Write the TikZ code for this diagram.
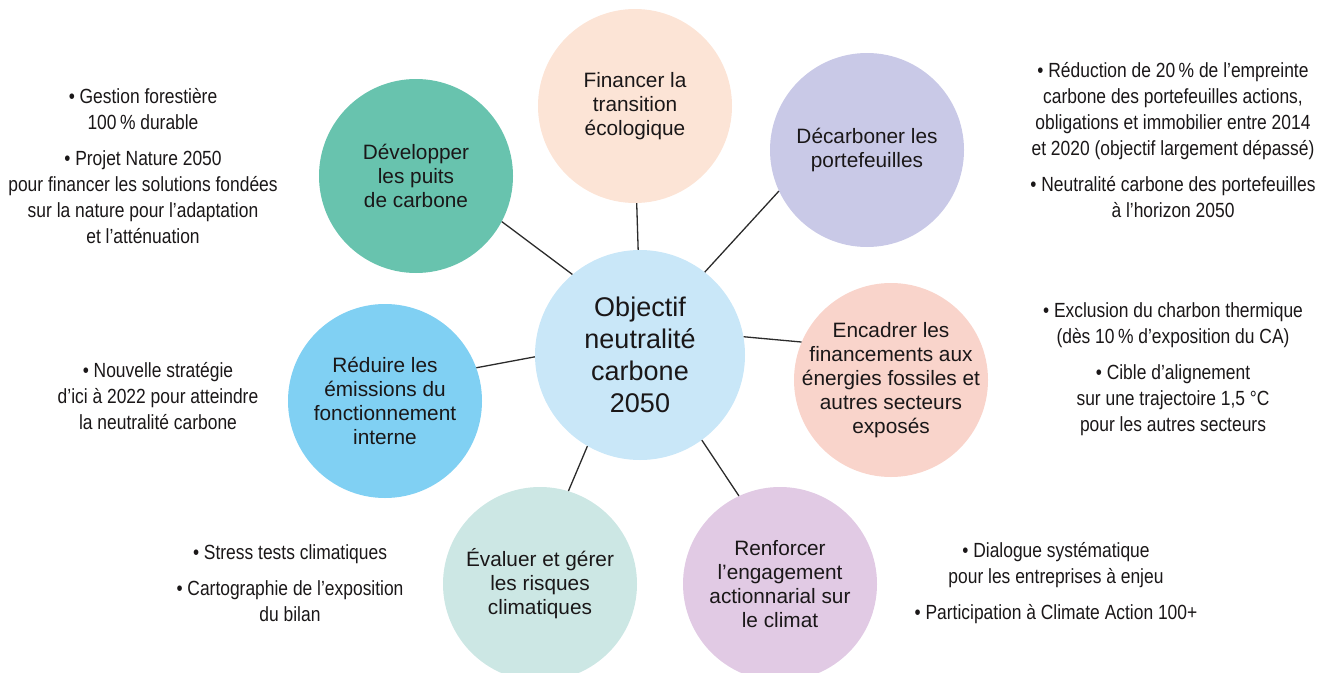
\documentclass[tikz,border=0pt]{standalone}
\usepackage{fontspec}
\setmainfont{Liberation Sans}
\newfontfamily\condfont[FakeStretch=0.85]{Liberation Sans}
\definecolor{cdev}{HTML}{68C3AE}
\definecolor{cfin}{HTML}{FCE4D6}
\definecolor{cdec}{HTML}{C9C9E7}
\definecolor{cred}{HTML}{80D0F3}
\definecolor{cctr}{HTML}{C9E7F8}
\definecolor{cenc}{HTML}{F9D4CB}
\definecolor{ceva}{HTML}{CCE7E4}
\definecolor{cren}{HTML}{E1CAE4}
\definecolor{txt}{HTML}{1A1718}
\definecolor{linec}{HTML}{2B2B2B}
\begin{document}
\begin{tikzpicture}[x=1pt,y=-1pt,
  bubble/.style={circle, minimum size=194pt, inner sep=0pt, align=center,
    font=\fontsize{20.8}{24}\selectfont, text=txt},
  note/.style={align=center, font=\condfont\fontsize{20.5}{26}\selectfont, text=txt},
  link/.style={draw=linec, line width=1.3pt}]
\useasboundingbox (0,0) rectangle (1327,672);
\clip (0,0) rectangle (1327,672);
\node[bubble, fill=cctr, minimum size=210pt, font=\fontsize{27}{32}\selectfont] (ctr) at (640,355) {Objectif\\neutralité\\carbone\\2050};
\node[bubble, fill=cdev] (dev) at (416,176) {Développer\\les puits\\de carbone};
\node[bubble, fill=cfin] (fin) at (635,106) {Financer la\\transition\\écologique};
\node[bubble, fill=cdec] (dec) at (867,150) {Décarboner les\\portefeuilles};
\node[bubble, fill=cred] (red) at (385,401) {Réduire les\\émissions du\\fonctionnement\\interne};
\node[bubble, fill=cenc, inner sep=-14pt] (enc) at (891,380) {Encadrer les\\financements aux\\énergies fossiles et\\autres secteurs\\exposés};
\node[bubble, fill=ceva] (eva) at (540,584) {Évaluer et gérer\\les risques\\climatiques};
\node[bubble, fill=cren] (ren) at (780,584) {Renforcer\\l’engagement\\actionnarial sur\\le climat};
\draw[link] (ctr.130) -- (dev.-28);
\draw[link] (ctr.91) -- (fin.-89);
\draw[link] (ctr.52) -- (dec.205);
\draw[link] (ctr.10) -- (enc.157);
\draw[link] (ctr.181) -- (red.20);
\draw[link] (ctr.240) -- (eva.73);
\draw[link] (ctr.306) -- (ren.115);
\node[note] (n1) at (143,166) {• Gestion forestière\\100\,\% durable\\[10pt]• Projet Nature 2050\\pour financer les solutions fondées\\sur la nature pour l’adaptation\\et l’atténuation};
\node[note] (n2) at (1173,140) {• Réduction de 20\,\% de l’empreinte\\carbone des portefeuilles actions,\\obligations et immobilier entre 2014\\et 2020 (objectif largement dépassé)\\[10pt]• Neutralité carbone des portefeuilles\\à l’horizon 2050};
\node[note] (n3) at (1173,369) {• Exclusion du charbon thermique\\(dès 10\,\% d’exposition du CA)\\[10pt]• Cible d’alignement\\sur une trajectoire 1,5 °C\\pour les autres secteurs};
\node[note] (n4) at (158,396) {• Nouvelle stratégie\\d’ici à 2022 pour atteindre\\la neutralité carbone};
\node[note] (n5) at (290,583) {• Stress tests climatiques\\[10pt]• Cartographie de l’exposition\\du bilan};
\node[note] (n6) at (1056,583) {• Dialogue systématique\\pour les entreprises à enjeu\\[10pt]• Participation à Climate Action 100+};
\end{tikzpicture}
\end{document}
